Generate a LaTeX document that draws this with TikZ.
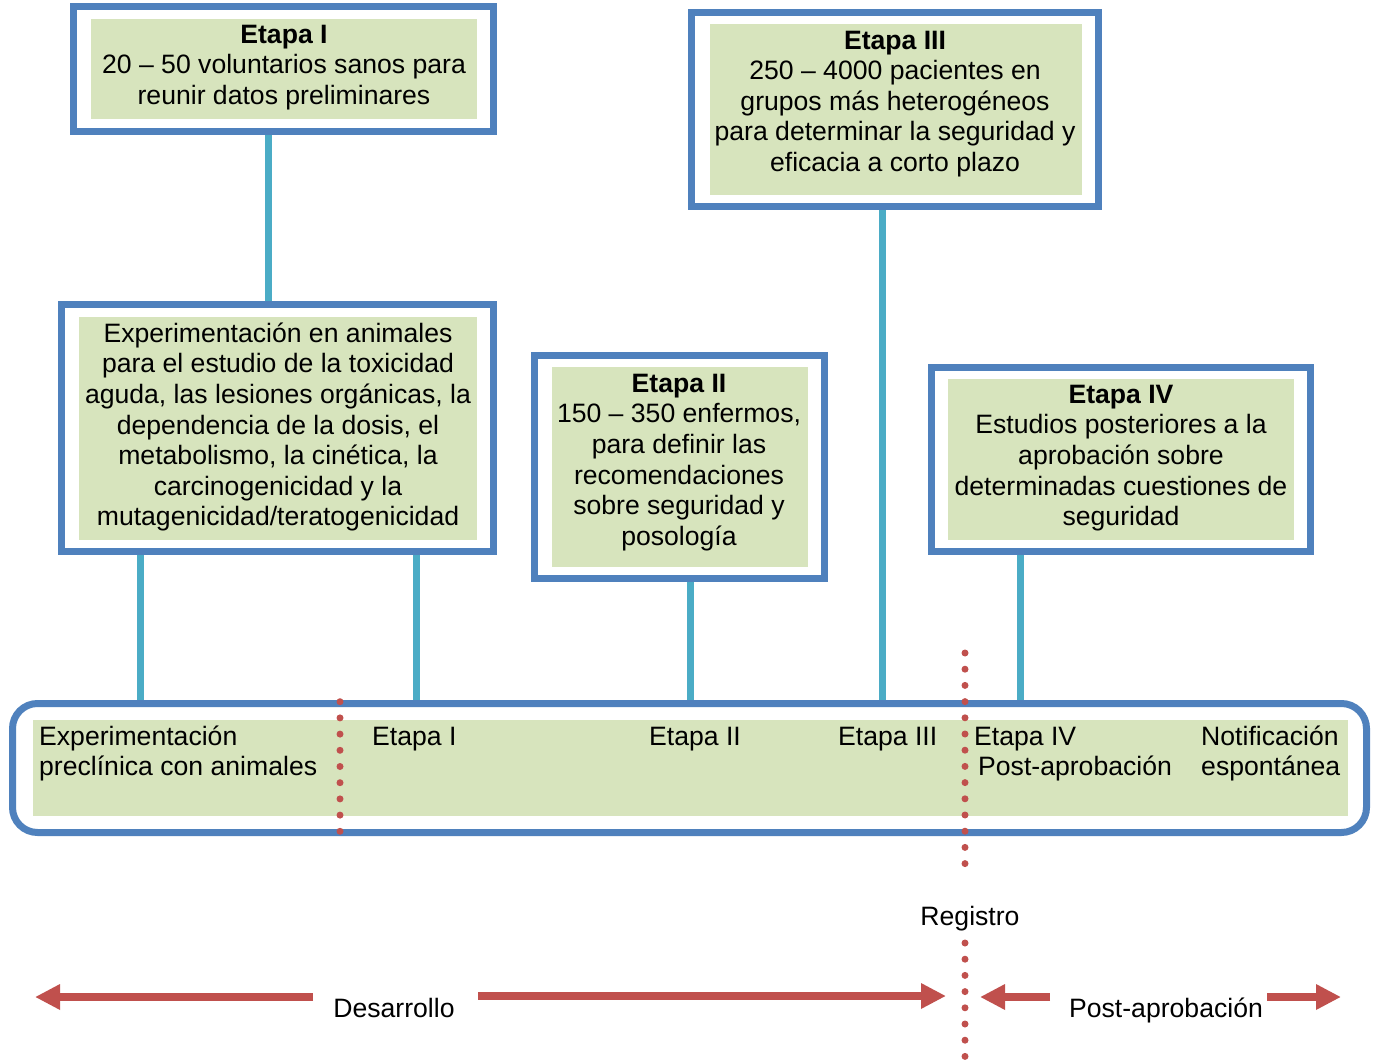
\documentclass[tikz,border=0pt]{standalone}
\usepackage{fontspec}
\setmainfont{Liberation Sans}
\usetikzlibrary{arrows.meta}
\definecolor{bblue}{HTML}{4F81BD}
\definecolor{ccyan}{HTML}{4BACC6}
\definecolor{lgreen}{HTML}{D7E4BD}
\definecolor{rred}{HTML}{C0504D}
\newcommand{\fl}{\rule{0pt}{26pt}}
\begin{document}
\begin{tikzpicture}[x=1pt,y=-1pt,
 outerbox/.style={draw=bblue,line width=7pt,fill=white,inner sep=0pt},
 greenbox/.style={fill=lgreen,inner sep=0pt},
 txt/.style={inner sep=0pt,font=\fontsize{26.6}{30.6}\selectfont},
 conn/.style={draw=ccyan,line width=7pt},
 reddots/.style={draw=rred,line width=7pt,line cap=round,dash pattern=on 0pt off 16.2pt},
 redarrow/.style={draw=rred,line width=8pt,-{Triangle[width=24pt,length=25pt]}}]
\useasboundingbox (0,0) rectangle (1374,1064);

% Etapa I box
\node[outerbox,minimum width=420pt,minimum height=125pt] (e1) at (283.5,69) {};
\node[greenbox,minimum width=386pt,minimum height=100pt] (g1) at (284,69) {};
\node[txt,anchor=north,align=center] (t1) at (284,17) {\fl\textbf{Etapa I}\\20 -- 50 voluntarios sanos para\\reunir datos preliminares};

% Etapa III box
\node[outerbox,minimum width=407pt,minimum height=194pt] (e3) at (895,109.5) {};
\node[greenbox,minimum width=372pt,minimum height=171pt] (g3) at (896,109.5) {};
\node[txt,anchor=north,align=center] (t3) at (895,23) {\fl\textbf{Etapa III}\\250 -- 4000 pacientes en\\grupos más heterogéneos\\para determinar la seguridad y\\eficacia a corto plazo};

% Experimentacion box
\node[outerbox,minimum width=432pt,minimum height=247pt] (exp) at (277.5,428) {};
\node[greenbox,minimum width=398pt,minimum height=223pt] (gexp) at (278,428.5) {};
\node[txt,anchor=north,align=center] (texp) at (278,316) {\fl Experimentación en animales\\para el estudio de la toxicidad\\aguda, las lesiones orgánicas, la\\dependencia de la dosis, el\\metabolismo, la cinética, la\\carcinogenicidad y la\\mutagenicidad/teratogenicidad};

% Etapa II box
\node[outerbox,minimum width=290pt,minimum height=223pt] (e2) at (679.5,467) {};
\node[greenbox,minimum width=256pt,minimum height=200pt] (g2) at (680,467) {};
\node[txt,anchor=north,align=center] (t2) at (679,366) {\fl\textbf{Etapa II}\\150 -- 350 enfermos,\\para definir las\\recomendaciones\\sobre seguridad y\\posología};

% Etapa IV box
\node[outerbox,minimum width=379pt,minimum height=184pt] (e4) at (1121,459.5) {};
\node[greenbox,minimum width=346pt,minimum height=161pt] (g4) at (1121,459.5) {};
\node[txt,anchor=north,align=center] (t4) at (1121,377) {\fl\textbf{Etapa IV}\\Estudios posteriores a la\\aprobación sobre\\determinadas cuestiones de\\seguridad};

% Bottom timeline box
\node[outerbox,rounded corners=25pt,minimum width=1354pt,minimum height=129pt] (bot) at (689.5,768) {};
\node[greenbox,minimum width=1315pt,minimum height=96pt] (gbot) at (690.5,768) {};
\node[txt,anchor=north west,align=left] (b1) at (39,719) {\fl Experimentación\\preclínica con animales};
\node[txt,anchor=base west] (b2) at (372,745) {Etapa I};
\node[txt,anchor=base west] (b3) at (649,745) {Etapa II};
\node[txt,anchor=base west] (b4) at (838,745) {Etapa III};
\node[txt,anchor=north west,align=left] (b5) at (974,719) {\fl Etapa IV\\\hspace*{4pt}Post-aprobación};
\node[txt,anchor=north west,align=left] (b6) at (1201,719) {\fl Notificación\\espontánea};

% connectors
\coordinate (xa) at (268,0);
\coordinate (xb) at (140,0);
\coordinate (xc) at (416,0);
\coordinate (xd) at (690,0);
\coordinate (xe) at (882,0);
\coordinate (xf) at (1020,0);
\draw[conn] (e1.south -| xa) -- (exp.north -| xa);
\draw[conn] (exp.south -| xb) -- (bot.north -| xb);
\draw[conn] (exp.south -| xc) -- (bot.north -| xc);
\draw[conn] (e2.south -| xd) -- (bot.north -| xd);
\draw[conn] (e3.south -| xe) -- (bot.north -| xe);
\draw[conn] (e4.south -| xf) -- (bot.north -| xf);

% dotted separators
\coordinate (d1a) at (340,701.7);
\coordinate (d1b) at (340,831.7);
\coordinate (d2a) at (965,653);
\coordinate (d2b) at (965,863.6);
\coordinate (d3a) at (965,943);
\coordinate (d3b) at (965,1057);
\draw[reddots] (d1a) -- (d1b);
\draw[reddots] (d2a) -- (d2b);
\draw[reddots] (d3a) -- (d3b);

% labels
\node[txt,anchor=base] (reg) at (970,925) {Registro};
\node[txt,anchor=base] (des) at (394,1017) {Desarrollo};
\node[txt,anchor=base] (pa) at (1166,1017) {Post-aprobación};

% arrows
\coordinate (a1s) at (313,997);
\coordinate (a1e) at (35,997);
\coordinate (a2s) at (478,996);
\coordinate (a2e) at (946,996);
\coordinate (a3s) at (1050,997);
\coordinate (a3e) at (980,997);
\coordinate (a4s) at (1267,997);
\coordinate (a4e) at (1341,997);
\draw[redarrow] (a1s) -- (a1e);
\draw[redarrow] (a2s) -- (a2e);
\draw[redarrow] (a3s) -- (a3e);
\draw[redarrow] (a4s) -- (a4e);
\end{tikzpicture}
\end{document}
